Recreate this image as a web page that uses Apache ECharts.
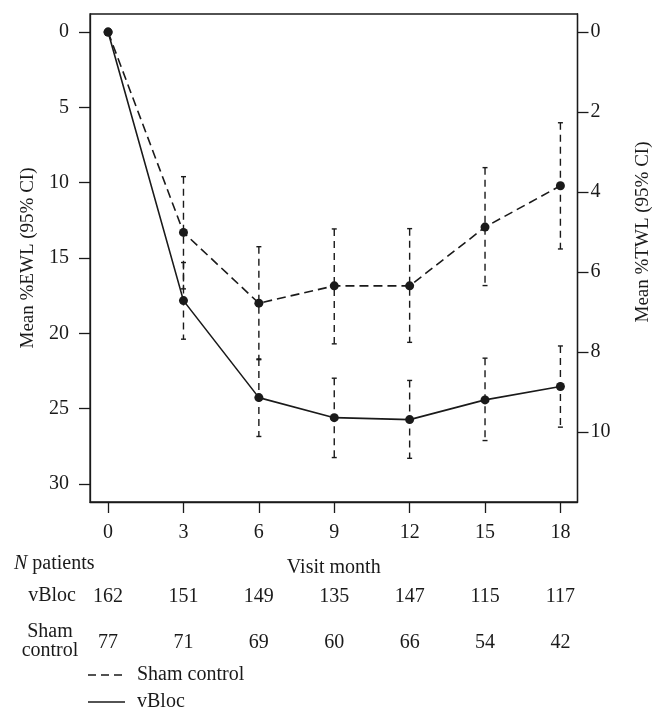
<!DOCTYPE html>
<html>
<head>
<meta charset="utf-8">
<title>vBloc vs sham</title>
<script src="https://cdn.jsdelivr.net/npm/echarts@6/dist/echarts.min.js"></script>
<style>
  html, body { margin: 0; padding: 0; background: #fff; }
  #main { width: 665px; height: 722px; }
</style>
</head>
<body>
<div id="main"></div>
<script>
var months = [0, 3, 6, 9, 12, 15, 18];
// mean %EWL per visit
var shamMean = [0, 13.3, 18.0, 16.85, 16.85, 12.95, 10.2];
var vblocMean = [0, 17.83, 24.27, 25.6, 25.73, 24.42, 23.53];
// 95% CI, months 3..18
var ciMonths = [3, 6, 9, 12, 15, 18];
var shamLow = [9.6, 14.25, 13.07, 13.05, 9.0, 6.02];
var shamHigh = [17.05, 21.75, 20.7, 20.6, 16.83, 14.4];
var vblocLow = [15.3, 21.7, 22.98, 23.13, 21.65, 20.84];
var vblocHigh = [20.39, 26.85, 28.25, 28.3, 27.12, 26.23];
// N patients
var vblocN = [162, 151, 149, 135, 147, 115, 117];
var shamN = [77, 71, 69, 60, 66, 54, 42];
var ewlTicks = [0, 5, 10, 15, 20, 25, 30];
var twlTicks = [0, 2, 4, 6, 8, 10];

var FONT = 'Liberation Serif';
var INK = '#1a1a1a';

function pairs(xs, ys) {
    return xs.map(function (x, i) { return [x, ys[i]]; });
}
function bars(lo, hi) {
    return ciMonths.map(function (m, i) { return [m, lo[i], hi[i]]; });
}

function renderBar(params, api) {
    var top = api.coord([api.value(0), api.value(1)]);
    var bot = api.coord([api.value(0), api.value(2)]);
    var w = 2.5;
    var solid = { stroke: INK, lineWidth: 1.4 };
    return {
        type: 'group',
        children: [
            { type: 'line', shape: { x1: top[0], y1: top[1], x2: bot[0], y2: bot[1] },
              style: { stroke: INK, lineWidth: 1.4, lineDash: [7, 5] } },
            { type: 'line', shape: { x1: top[0] - w, y1: top[1], x2: top[0] + w, y2: top[1] }, style: solid },
            { type: 'line', shape: { x1: bot[0] - w, y1: bot[1], x2: bot[0] + w, y2: bot[1] }, style: solid }
        ]
    };
}

function countAxis(counts, offset) {
    return {
        type: 'value', min: -0.72, max: 18.68, position: 'bottom', offset: offset,
        axisLine: { show: false, onZero: false }, axisTick: { show: false }, splitLine: { show: false },
        axisLabel: {
            customValues: months, margin: 31, verticalAlign: 'middle',
            fontFamily: FONT, fontSize: 20, color: INK,
            formatter: function (v) { return counts[months.indexOf(v)]; }
        }
    };
}

var chart = echarts.init(document.getElementById('main'));
var option = {
    animation: false,
    grid: { left: 90, right: 87.5, top: 14, bottom: 220, show: true, borderColor: INK, borderWidth: 1.3 },
    xAxis: [
        {
            type: 'value', min: -0.72, max: 18.68, position: 'bottom',
            name: 'Visit month', nameLocation: 'middle', nameGap: 56,
            nameTextStyle: { fontFamily: FONT, fontSize: 20, color: INK },
            axisLine: { show: true, onZero: false, lineStyle: { color: INK, width: 1.3 } },
            axisTick: { show: true, customValues: months, length: 11, lineStyle: { color: INK, width: 1.3 } },
            splitLine: { show: false },
            axisLabel: { customValues: months, margin: 31, verticalAlign: 'middle', fontFamily: FONT, fontSize: 20, color: INK }
        },
        countAxis(vblocN, 64),
        countAxis(shamN, 110)
    ],
    yAxis: [
        {
            type: 'value', inverse: true, min: -1.2, max: 31.2, position: 'left',
            name: 'Mean %EWL (95% CI)', nameLocation: 'middle', nameGap: 52,
            nameTextStyle: { fontFamily: FONT, fontSize: 19, color: INK },
            axisLine: { show: true, onZero: false, lineStyle: { color: INK, width: 1.3 } },
            axisTick: { show: true, customValues: ewlTicks, length: 11, lineStyle: { color: INK, width: 1.3 } },
            splitLine: { show: false },
            axisLabel: { customValues: ewlTicks, margin: 21, fontFamily: FONT, fontSize: 20, color: INK }
        },
        {
            type: 'value', inverse: true, min: -0.45, max: 11.75, position: 'right',
            name: 'Mean %TWL (95% CI)', nameLocation: 'middle', nameGap: 56,
            nameTextStyle: { fontFamily: FONT, fontSize: 19, color: INK, padding: [0, 0, 0, 52] },
            axisLine: { show: true, onZero: false, lineStyle: { color: INK, width: 1.3 } },
            axisTick: { show: true, customValues: twlTicks, length: 11, lineStyle: { color: INK, width: 1.3 } },
            splitLine: { show: false },
            axisLabel: { customValues: twlTicks, margin: 13, fontFamily: FONT, fontSize: 20, color: INK }
        }
    ],
    series: [
        { name: 'Sham CI', type: 'custom', renderItem: renderBar, data: bars(shamLow, shamHigh), z: 2 },
        { name: 'vBloc CI', type: 'custom', renderItem: renderBar, data: bars(vblocLow, vblocHigh), z: 2 },
        {
            name: 'Sham control', type: 'line', data: pairs(months, shamMean), z: 3,
            symbol: 'circle', symbolSize: 9, itemStyle: { color: INK },
            lineStyle: { color: INK, width: 1.6, type: [9, 5] }
        },
        {
            name: 'vBloc', type: 'line', data: pairs(months, vblocMean), z: 3,
            symbol: 'circle', symbolSize: 9, itemStyle: { color: INK },
            lineStyle: { color: INK, width: 1.6 }
        }
    ],
    graphic: [
        { type: 'text', left: 14, top: 554,
          style: { text: '{i|N} patients', fontFamily: FONT, fontSize: 20, fill: INK,
                   rich: { i: { fontStyle: 'italic', fontFamily: FONT, fontSize: 20 } } } },
        { type: 'text', x: 76, y: 596,
          style: { text: 'vBloc', fontFamily: FONT, fontSize: 20, fill: INK, align: 'right', verticalAlign: 'middle' } },
        { type: 'text', x: 50, y: 641,
          style: { text: 'Sham\ncontrol', fontFamily: FONT, fontSize: 20, lineHeight: 19, fill: INK, align: 'center', verticalAlign: 'middle' } },
        { type: 'line', shape: { x1: 88, y1: 675, x2: 125, y2: 675 }, style: { stroke: INK, lineWidth: 1.5, lineDash: [8, 5] } },
        { type: 'text', x: 137, y: 675,
          style: { text: 'Sham control', fontFamily: FONT, fontSize: 20, fill: INK, verticalAlign: 'middle' } },
        { type: 'line', shape: { x1: 88, y1: 702, x2: 125, y2: 702 }, style: { stroke: INK, lineWidth: 1.5 } },
        { type: 'text', x: 137, y: 702,
          style: { text: 'vBloc', fontFamily: FONT, fontSize: 20, fill: INK, verticalAlign: 'middle' } }
    ]
};
chart.setOption(option);
</script>
</body>
</html>
